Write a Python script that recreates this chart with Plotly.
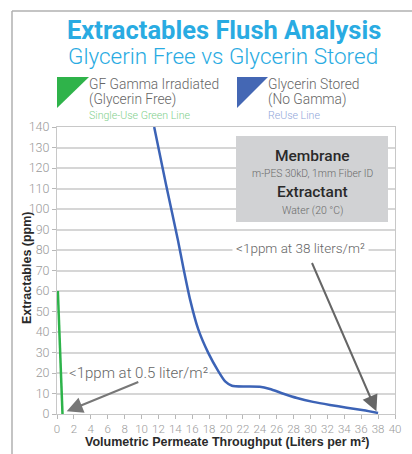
import plotly.graph_objects as go

# ---- data ----
green_x = [0.1, 0.65]
green_y = [60, 0]

blue_x = [11.5, 12.9, 14.3, 15.0, 15.75, 16.7, 17.9, 19.1, 19.9, 20.7, 22.2, 24.0,
          25.2, 26.8, 28.4, 30.3, 32.3, 34.3, 36.3, 38.0]
blue_y = [140, 112, 85, 70.4, 55.8, 41.5, 29.8, 20.8, 15.9, 13.8, 13.4, 13.3,
          12.2, 9.9, 7.8, 5.9, 4.4, 3.1, 1.8, 0.5]

x_ticks = list(range(0, 41, 2))
y_ticks = list(range(0, 141, 10))

title = "Extractables Flush Analysis"
subtitle = "Glycerin Free vs Glycerin Stored"
x_title = "Volumetric Permeate Throughput (Liters per m²)"
y_title = "Extractables (ppm)"

# ---- layout helpers (pixel -> paper) ----
L, R, T, B = 57, 395, 127, 414
W, H = 412, 454


def px(x):
    return (x - L) / (R - L)


def py(y):
    return (B - y) / (B - T)


BLUE_T = "#29abe2"
GREEN = "#2db34a"
BLUE = "#3c63b6"
GRAY_TXT = "#666666"
LIGHT = "Roboto"
NARROW = "Liberation Sans Narrow, Arial Narrow, sans-serif"

fig = go.Figure()
fig.add_trace(go.Scatter(x=green_x, y=green_y, mode="lines",
                         line=dict(color=GREEN, width=2.5), hoverinfo="skip"))
fig.add_trace(go.Scatter(x=blue_x, y=blue_y, mode="lines",
                         line=dict(color=BLUE, width=2.5, shape="spline", smoothing=0.5),
                         hoverinfo="skip"))

shapes = []
# frame (left + top)
shapes.append(dict(type="line", xref="paper", yref="paper", x0=px(12), x1=px(12),
                   y0=py(11), y1=py(460), line=dict(color="#b0b0b0", width=1.5)))
shapes.append(dict(type="line", xref="paper", yref="paper", x0=px(12), x1=px(420),
                   y0=py(11), y1=py(11), line=dict(color="#b0b0b0", width=1.5)))
# legend triangles
shapes.append(dict(type="path", xref="paper", yref="paper",
                   path=f"M {px(57)} {py(77)} L {px(89)} {py(77)} L {px(57)} {py(108)} Z",
                   fillcolor="#2fb34a", line=dict(width=0)))
shapes.append(dict(type="path", xref="paper", yref="paper",
                   path=f"M {px(237)} {py(77)} L {px(268)} {py(77)} L {px(237)} {py(108)} Z",
                   fillcolor="#4467b4", line=dict(width=0)))
# info box
shapes.append(dict(type="rect", xref="paper", yref="paper", x0=px(236), x1=px(388),
                   y0=py(222), y1=py(136), fillcolor="#d1d2d4", line=dict(width=0),
                   layer="above"))

ann = []


def txt(x, y, s, size, color, weight=300, xanchor="center", family=LIGHT, angle=0):
    ann.append(dict(x=px(x), y=py(y), xref="paper", yref="paper", text=s, showarrow=False,
                    xanchor=xanchor, yanchor="middle", textangle=angle, borderpad=0,
                    font=dict(family=family, size=size, color=color, weight=weight)))


txt(224, 30, title, 25.5, BLUE_T, weight=700)
txt(223, 56, subtitle, 22.5, BLUE_T, weight=300)

txt(88, 84, "GF Gamma Irradiated", 13.8, GRAY_TXT, xanchor="left")
txt(88, 99.5, "(Glycerin Free)", 13.8, GRAY_TXT, xanchor="left")
txt(88, 115.5, "Single-Use Green Line", 10.6, "#7fcf8c", xanchor="left")
txt(267, 84, "Glycerin Stored", 13.8, GRAY_TXT, xanchor="left")
txt(267, 99.5, "(No Gamma)", 13.8, GRAY_TXT, xanchor="left")
txt(267, 115.5, "ReUse Line", 10.6, "#8fa6d9", xanchor="left")

txt(312, 156, "Membrane", 15.5, "#2a2a2a", weight=500)
txt(312, 173, "m-PES 30kD, 1mm Fiber ID", 10.3, "#6a6a6a")
txt(312, 192, "Extractant", 15.5, "#2a2a2a", weight=500)
txt(312, 210, "Water (20 °C)", 10.5, "#6a6a6a")

# axis titles
txt(227, 442, x_title, 12.5, "#2a2a2a", weight=700, family=NARROW)
txt(27, 268, y_title, 12.5, "#2a2a2a", weight=700, family=NARROW, angle=-90)

# callout texts
ann.append(dict(x=px(67), y=py(373), xref="paper", yref="paper",
                text="<1ppm at 0.5 liter/m²", showarrow=False, xanchor="left", yanchor="middle",
                bgcolor="white", borderpad=1,
                font=dict(family=LIGHT, size=15, color="#666", weight=300)))
ann.append(dict(x=px(300), y=py(248), xref="paper", yref="paper",
                text="<1ppm at 38 liters/m²", showarrow=False, xanchor="center", yanchor="middle",
                bgcolor="white", borderpad=3,
                font=dict(family=LIGHT, size=13.5, color="#666", weight=300)))
# arrows
ann.append(dict(x=1.15, y=1.3, xref="x", yref="y", ax=9.8, ay=15.9, axref="x", ayref="y",
                text="", showarrow=True, arrowhead=2, arrowsize=1.6, arrowwidth=2,
                arrowcolor="#777"))
ann.append(dict(x=37.8, y=1.3, xref="x", yref="y", ax=30.1, ay=74.4, axref="x", ayref="y",
                text="", showarrow=True, arrowhead=2, arrowsize=1.6, arrowwidth=2,
                arrowcolor="#666"))

fig.update_layout(
    width=W, height=H,
    margin=dict(l=L, r=W - R, t=T, b=H - B, autoexpand=False),
    paper_bgcolor="white", plot_bgcolor="white",
    showlegend=False, hovermode=False,
    shapes=shapes, annotations=ann,
    xaxis=dict(range=[0, 40], tickvals=x_ticks, ticks="outside", ticklen=4,
               tickcolor="#b8b8b8", showgrid=False, zeroline=False, automargin=False,
               showline=True, linecolor="#c8c8c8", linewidth=1, mirror=True,
               tickfont=dict(family=LIGHT, size=11.5, color="#9a9a9a", weight=300)),
    yaxis=dict(range=[0, 140], tickvals=y_ticks, ticks="outside", ticklen=4,
               tickcolor="#b8b8b8", showgrid=True, gridcolor="#d6d6d6", gridwidth=1.6,
               zeroline=False, showline=True, linecolor="#c8c8c8", linewidth=1, mirror=True,
               automargin=False,
               tickfont=dict(family=LIGHT, size=12.5, color="#9a9a9a", weight=300)),
)

fig.write_html("out.html", config={"displayModeBar": False},
               post_script="document.body.style.margin='0';"
                           "document.body.style.padding='0';"
                           "document.body.style.overflow='hidden';")
